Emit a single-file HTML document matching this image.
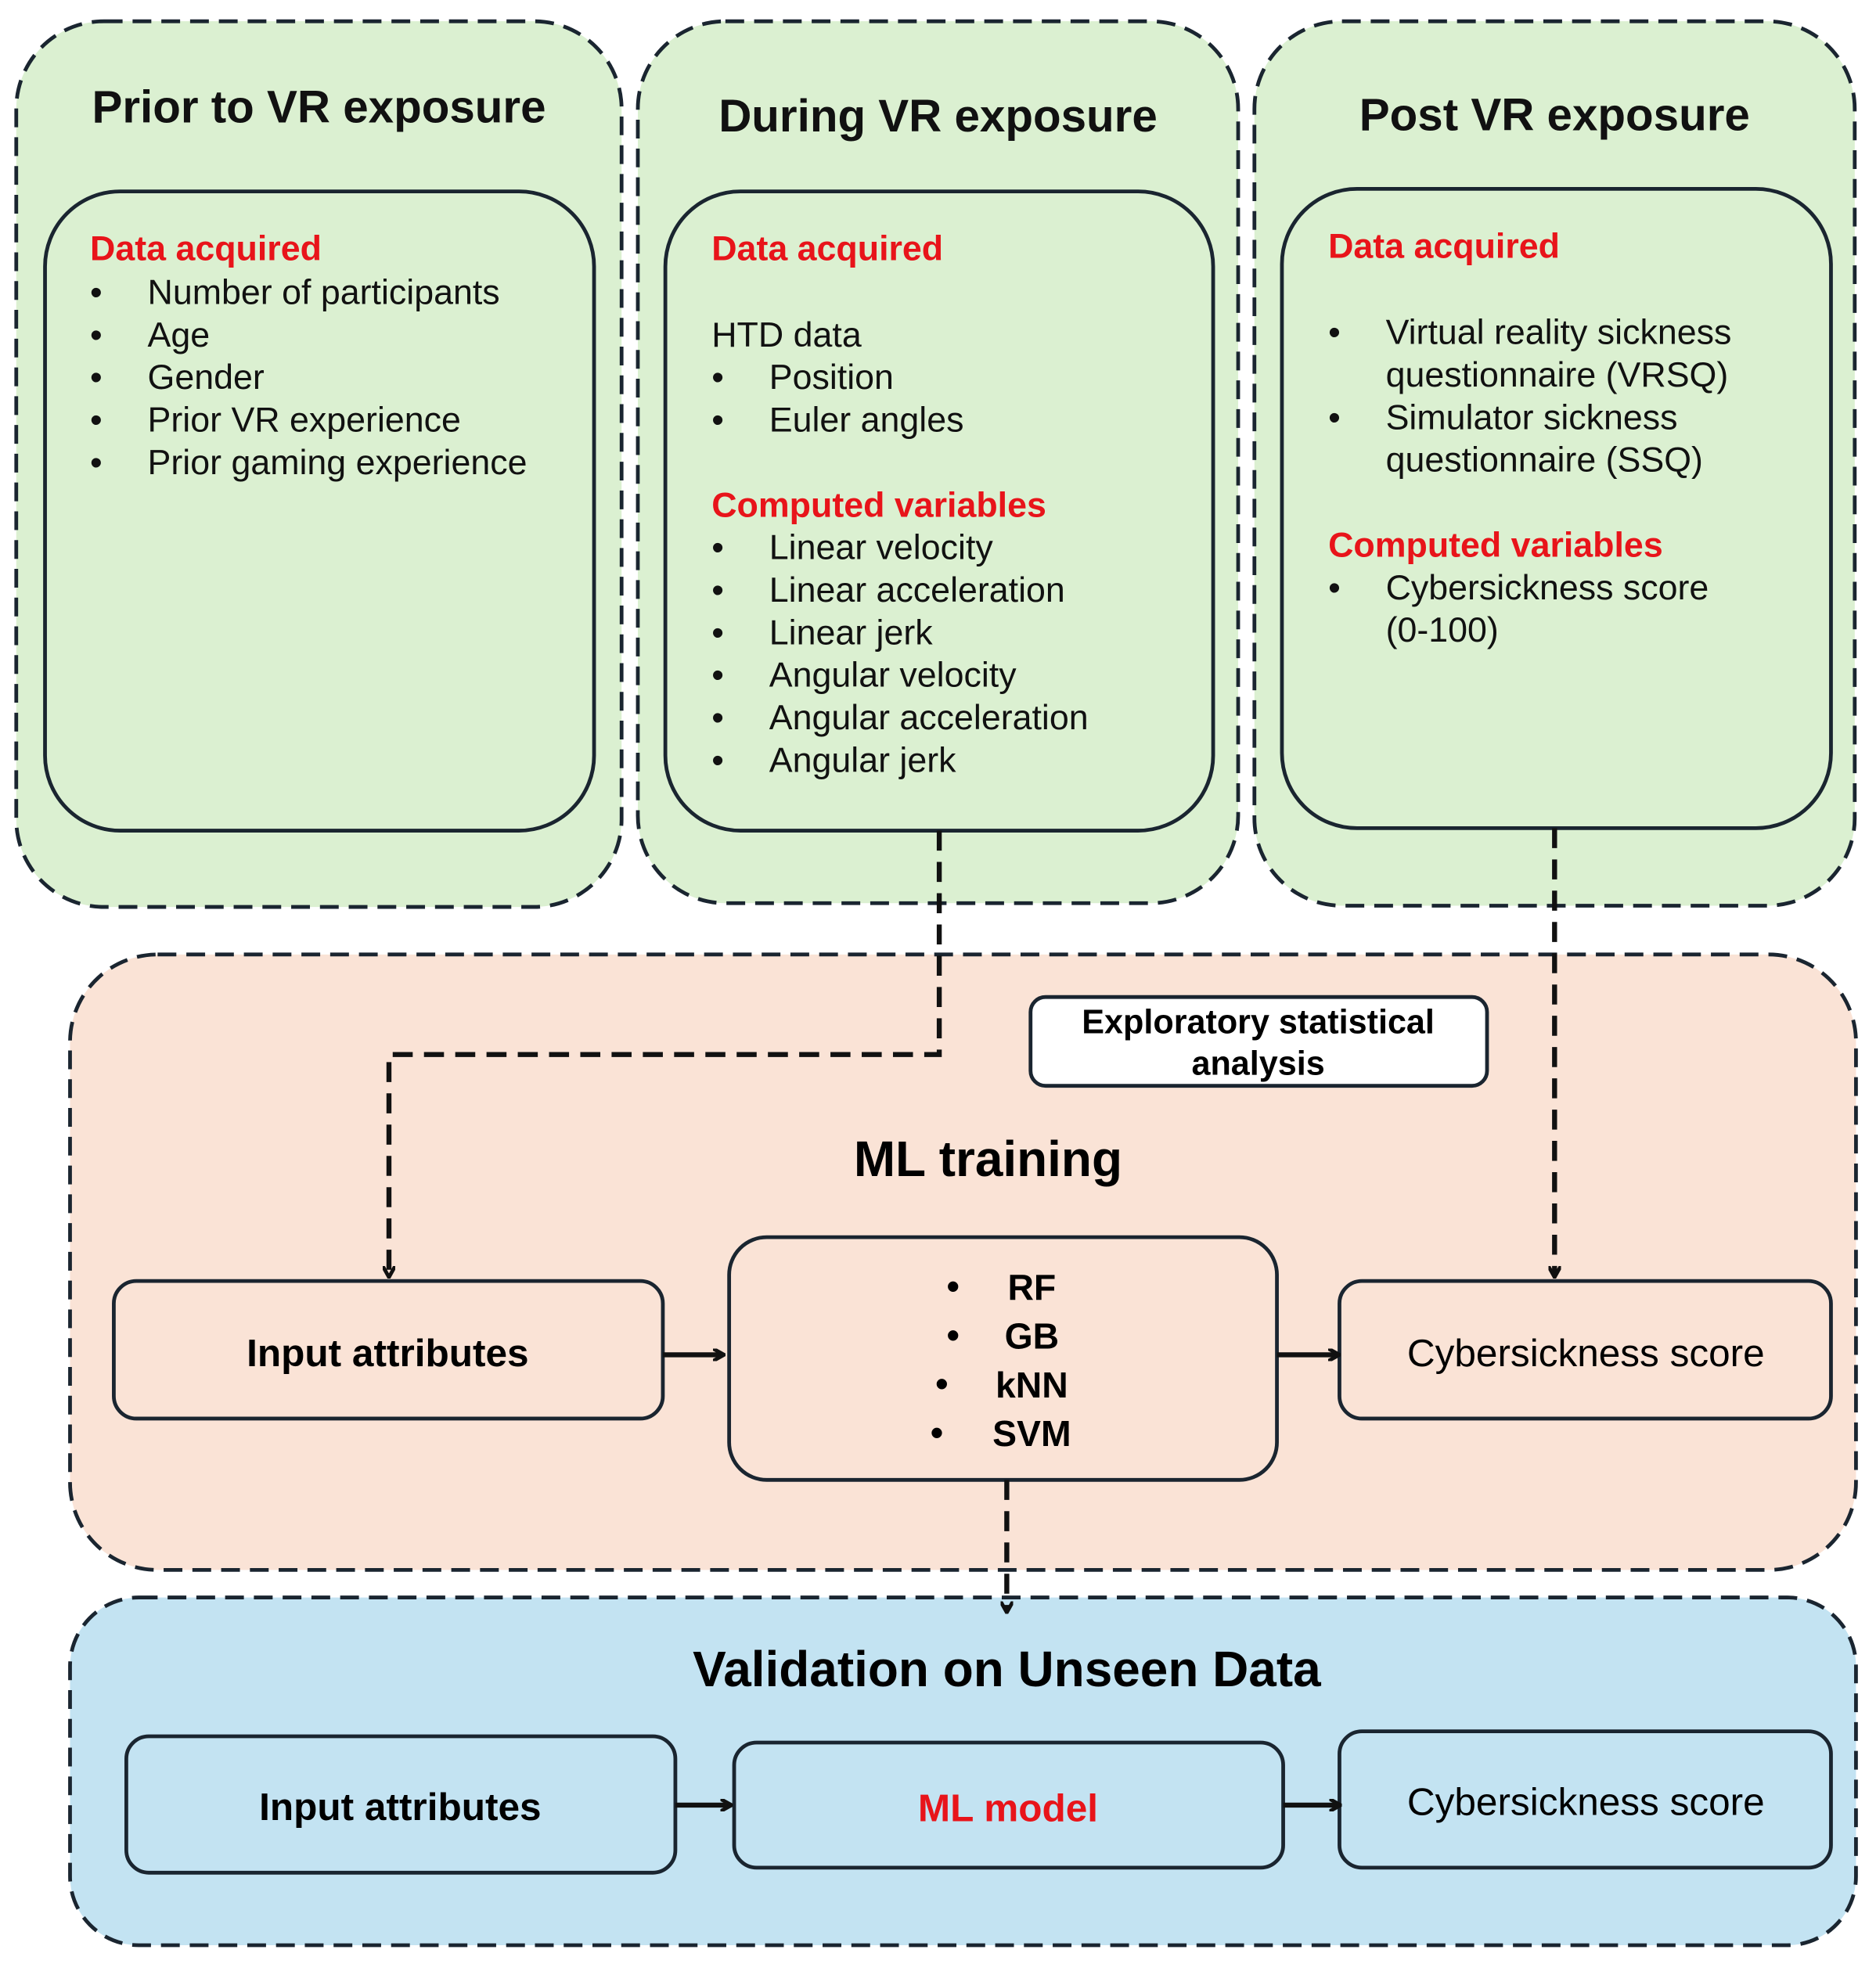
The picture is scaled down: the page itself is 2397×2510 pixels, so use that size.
<!DOCTYPE html>
<html><head><meta charset="utf-8"><style>
html,body{margin:0;padding:0;background:#fff}
svg{display:block}
text{font-family:"Liberation Sans",Arial,sans-serif}
.t{font-size:28px;fill:#111}
.r{font-size:28px;fill:#e8141a;font-weight:bold}
.h{font-size:36.5px;font-weight:bold;fill:#111}
</style></head><body>
<svg width="2397" height="2510" viewBox="0 0 1500 1570" preserveAspectRatio="none" xmlns="http://www.w3.org/2000/svg">
<defs><marker id="a" markerWidth="10" markerHeight="10" refX="8" refY="5" orient="auto" markerUnits="userSpaceOnUse"><path d="M0,0 L9,5 L0,10" fill="none" stroke="#111" stroke-width="3"/></marker></defs>
<g stroke="#1a2530" stroke-width="3" stroke-dasharray="15,8">
<rect x="13" y="17" width="484" height="708" rx="70" fill="#dbf0d1"/>
<rect x="510" y="17" width="480" height="705" rx="70" fill="#dbf0d1"/>
<rect x="1003" y="17" width="480" height="707" rx="70" fill="#dbf0d1"/>
<rect x="56" y="763" width="1428" height="492" rx="70" fill="#fae3d6"/>
<rect x="56" y="1277" width="1428" height="278" rx="55" fill="#c3e3f2"/>
</g>
<g stroke="#1a2530" stroke-width="3" fill="none">
<rect x="36" y="153" width="439" height="511" rx="60" fill="#dbf0d1"/>
<rect x="532" y="153" width="438" height="511" rx="60" fill="#dbf0d1"/>
<rect x="1025" y="151" width="439" height="511" rx="60" fill="#dbf0d1"/>
<rect x="824" y="797" width="365" height="71" rx="12" fill="#fff"/>
<rect x="91" y="1024" width="439" height="110" rx="18" fill="#fae3d6"/>
<rect x="583" y="989" width="438" height="194" rx="30" fill="#fae3d6"/>
<rect x="1071" y="1024" width="393" height="110" rx="18" fill="#fae3d6"/>
<rect x="101" y="1388" width="439" height="109" rx="18" fill="#c3e3f2"/>
<rect x="587" y="1393" width="439" height="100" rx="18" fill="#c3e3f2"/>
<rect x="1071" y="1384" width="393" height="109" rx="18" fill="#c3e3f2"/>
</g>
<g stroke="#111" stroke-width="4" fill="none">
<path d="M530,1083 H578" marker-end="url(#a)"/>
<path d="M1021,1083 H1070" marker-end="url(#a)"/>
<path d="M540,1443 H584" marker-end="url(#a)"/>
<path d="M1026,1443 H1071" marker-end="url(#a)"/>
<g stroke-dasharray="16,9">
<path d="M751,664 V843 H311 V1020" marker-end="url(#a)"/>
<path d="M1243,662 V1020" marker-end="url(#a)"/>
<path d="M805,1183 V1288" marker-end="url(#a)"/>
</g>
</g>
<text class="h" x="255" y="98" text-anchor="middle">Prior to VR exposure</text>
<text class="h" x="750" y="105" text-anchor="middle">During VR exposure</text>
<text class="h" x="1243" y="104" text-anchor="middle">Post VR exposure</text>
<text class="r" x="72" y="208">Data acquired</text>
<g class="t">
<text x="72" y="243">•</text><text x="118" y="243">Number of participants</text>
<text x="72" y="277">•</text><text x="118" y="277">Age</text>
<text x="72" y="311">•</text><text x="118" y="311">Gender</text>
<text x="72" y="345">•</text><text x="118" y="345">Prior VR experience</text>
<text x="72" y="379">•</text><text x="118" y="379">Prior gaming experience</text>
</g>
<text class="r" x="569" y="208">Data acquired</text>
<g class="t">
<text x="569" y="277">HTD data</text>
<text x="569" y="311">•</text><text x="615" y="311">Position</text>
<text x="569" y="345">•</text><text x="615" y="345">Euler angles</text>
</g>
<text class="r" x="569" y="413">Computed variables</text>
<g class="t">
<text x="569" y="447">•</text><text x="615" y="447">Linear velocity</text>
<text x="569" y="481">•</text><text x="615" y="481">Linear acceleration</text>
<text x="569" y="515">•</text><text x="615" y="515">Linear jerk</text>
<text x="569" y="549">•</text><text x="615" y="549">Angular velocity</text>
<text x="569" y="583">•</text><text x="615" y="583">Angular acceleration</text>
<text x="569" y="617">•</text><text x="615" y="617">Angular jerk</text>
</g>
<text class="r" x="1062" y="206">Data acquired</text>
<g class="t">
<text x="1062" y="275">•</text><text x="1108" y="275">Virtual reality sickness</text>
<text x="1108" y="309">questionnaire (VRSQ)</text>
<text x="1062" y="343">•</text><text x="1108" y="343">Simulator sickness</text>
<text x="1108" y="377">questionnaire (SSQ)</text>
</g>
<text class="r" x="1062" y="445">Computed variables</text>
<g class="t">
<text x="1062" y="479">•</text><text x="1108" y="479">Cybersickness score</text>
<text x="1108" y="513">(0-100)</text>
</g>
<text x="1006" y="826" text-anchor="middle" style="font-size:27px;font-weight:bold">Exploratory statistical</text>
<text x="1006" y="859" text-anchor="middle" style="font-size:27px;font-weight:bold">analysis</text>
<text x="790" y="940" text-anchor="middle" style="font-size:40px;font-weight:bold">ML training</text>
<text x="310" y="1092" text-anchor="middle" style="font-size:31px;font-weight:bold">Input attributes</text>
<text x="1268" y="1092" text-anchor="middle" style="font-size:31px">Cybersickness score</text>
<g style="font-size:29px;font-weight:bold">
<text x="757" y="1038">•</text><text x="825" y="1039" text-anchor="middle">RF</text>
<text x="757" y="1077">•</text><text x="825" y="1078" text-anchor="middle">GB</text>
<text x="748" y="1116">•</text><text x="825" y="1117" text-anchor="middle">kNN</text>
<text x="744" y="1155">•</text><text x="825" y="1156" text-anchor="middle">SVM</text>
</g>
<text x="805" y="1348" text-anchor="middle" style="font-size:40px;font-weight:bold">Validation on Unseen Data</text>
<text x="320" y="1455" text-anchor="middle" style="font-size:31px;font-weight:bold">Input attributes</text>
<text x="806" y="1456" text-anchor="middle" style="font-size:31px;font-weight:bold;fill:#e8141a">ML model</text>
<text x="1268" y="1451" text-anchor="middle" style="font-size:31px">Cybersickness score</text>
</svg>
</body></html>
